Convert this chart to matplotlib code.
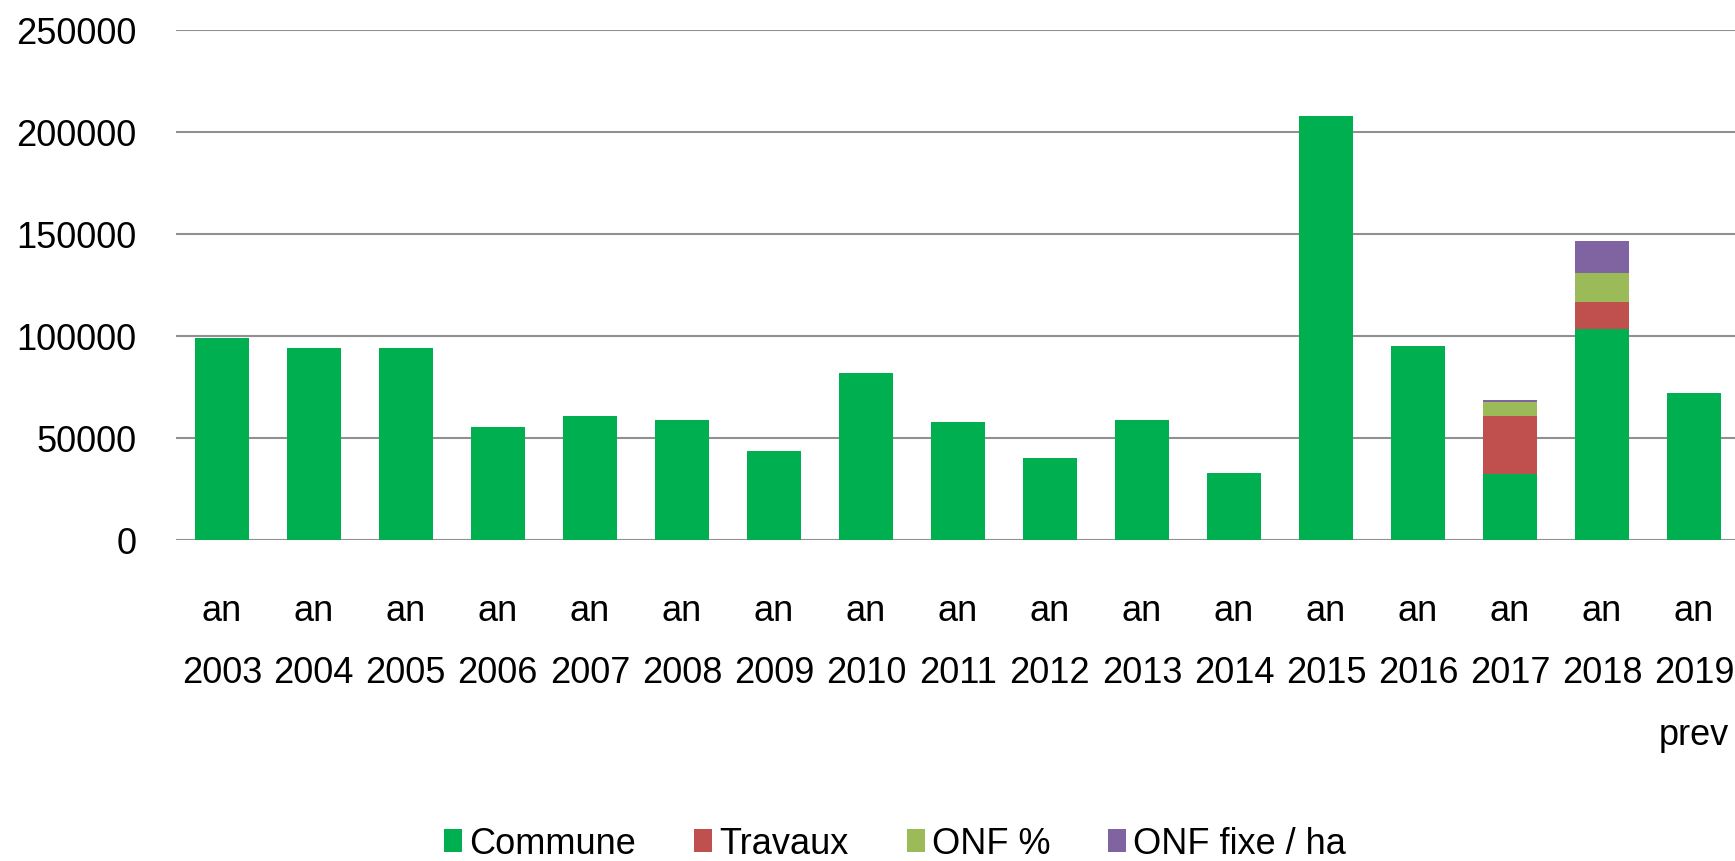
import numpy as np
import matplotlib
matplotlib.use('Agg')
import matplotlib.pyplot as plt

plt.rcParams['font.family'] = ['Liberation Sans', 'DejaVu Sans']

### data ###
years = ['2003', '2004', '2005', '2006', '2007', '2008', '2009', '2010', '2011',
         '2012', '2013', '2014', '2015', '2016', '2017', '2018', '2019']
labels = ['an\n' + y for y in years]
labels[-1] = 'an\n2019\nprev'

commune = [99000, 94000, 94000, 55500, 60500, 59000, 43500, 82000, 58000,
           40000, 59000, 33000, 207500, 95000, 32500, 103500, 72000]
travaux = [0, 0, 0, 0, 0, 0, 0, 0, 0, 0, 0, 0, 0, 0, 28000, 13000, 0]
onf_pct = [0, 0, 0, 0, 0, 0, 0, 0, 0, 0, 0, 0, 0, 0, 7000, 14200, 0]
onf_fixe = [0, 0, 0, 0, 0, 0, 0, 0, 0, 0, 0, 0, 0, 0, 1300, 15500, 0]

series = [('Commune', commune, '#00B050'),
          ('Travaux', travaux, '#C0504D'),
          ('ONF %', onf_pct, '#9BBB59'),
          ('ONF fixe / ha', onf_fixe, '#8064A2')]

fig = plt.figure(figsize=(17.35, 8.62), dpi=100)
ax = fig.add_axes([0.1013, 0.3724, 0.9016, 0.5922])

x = np.arange(len(years))
bottom = np.zeros(len(years))
for name, vals, col in series:
    vals = np.array(vals, dtype=float)
    ax.bar(x, vals, width=0.59, bottom=bottom, color=col, label=name, zorder=3)
    bottom += vals

ax.set_xlim(-0.5, len(years) - 0.5)
ax.set_ylim(0, 250000)
ax.set_yticks(np.arange(0, 250001, 50000))
ax.set_yticklabels([str(v) for v in range(0, 250001, 50000)])
ax.yaxis.grid(True, color='#909090', linewidth=1.5, zorder=0)
ax.set_xticks(x)
ax.set_xticklabels(labels, linespacing=2.0)

for s in ax.spines.values():
    s.set_visible(False)
ax.tick_params(axis='both', length=0, labelsize=26, colors='black')
ax.tick_params(axis='y', pad=28)
ax.tick_params(axis='x', pad=38)

fig.legend(loc='center', bbox_to_anchor=(0.516, 0.020), ncol=4, frameon=False,
           fontsize=26, handlelength=0.5, handleheight=0.6,
           handletextpad=0.2, columnspacing=1.6, borderaxespad=0)

plt.savefig('out.png', dpi=100)
